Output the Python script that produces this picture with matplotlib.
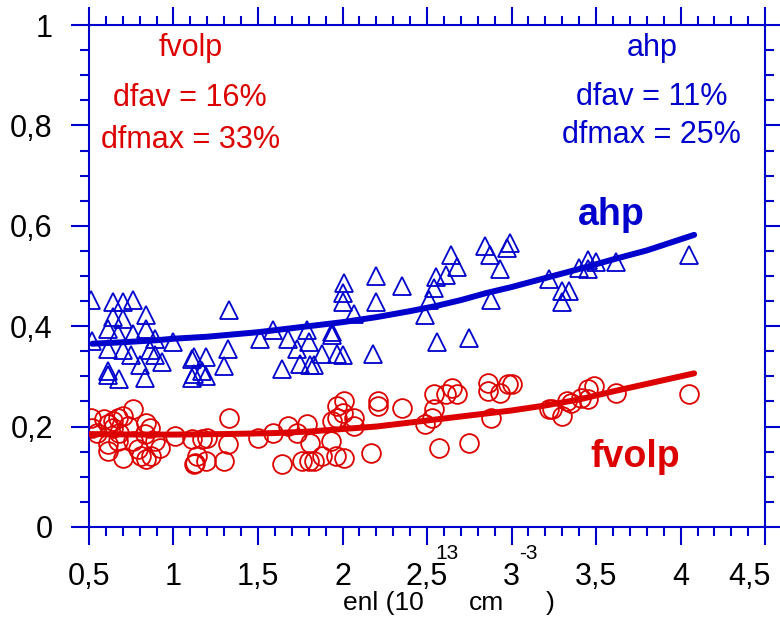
import matplotlib
matplotlib.use("Agg")
import matplotlib.pyplot as plt
from matplotlib import font_manager
from matplotlib.transforms import ScaledTranslation
from matplotlib.ticker import MultipleLocator, FuncFormatter

# -----------------------------
# Data
# -----------------------------
ahp_x = [0.51, 0.64, 0.70, 0.76, 0.84, 0.64, 0.70, 0.61, 0.67, 0.76, 0.84, 0.89, 0.52, 0.61,
         0.70, 0.75, 0.86, 0.89, 1.00, 0.93, 0.80, 0.61, 0.61, 0.68, 0.83, 1.11, 1.11,
         1.12, 1.19, 1.12, 1.17, 1.19, 1.33, 1.32, 1.30, 1.51, 1.59, 1.68, 1.73, 1.64,
         1.79, 1.80, 1.75, 1.81, 1.83, 1.88, 1.94, 1.94, 1.97, 2.00, 2.01, 2.00, 2.00,
         2.07, 2.18, 2.20, 2.20, 2.35, 2.64, 2.68, 2.55, 2.61, 2.54, 2.51, 2.49, 2.56,
         2.75, 2.84, 2.87, 2.93, 2.99, 2.97, 2.88, 3.22, 3.30, 3.30, 3.34, 3.40, 3.45,
         3.45, 3.50, 3.62, 4.05]
ahp_y = [0.452, 0.448, 0.448, 0.452, 0.422, 0.418, 0.414, 0.394, 0.385, 0.385, 0.394, 0.375,
         0.371, 0.355, 0.353, 0.343, 0.353, 0.343, 0.369, 0.329, 0.323, 0.310, 0.302,
         0.294, 0.296, 0.335, 0.296, 0.339, 0.339, 0.304, 0.310, 0.300, 0.432, 0.355,
         0.320, 0.375, 0.393, 0.375, 0.355, 0.314, 0.393, 0.369, 0.325, 0.323, 0.323,
         0.345, 0.389, 0.383, 0.345, 0.343, 0.487, 0.467, 0.448, 0.424, 0.345, 0.501,
         0.448, 0.481, 0.542, 0.517, 0.499, 0.503, 0.477, 0.452, 0.422, 0.369, 0.377,
         0.560, 0.542, 0.513, 0.566, 0.556, 0.452, 0.495, 0.471, 0.448, 0.471, 0.515,
         0.531, 0.513, 0.527, 0.527, 0.542]

fvolp_x = [0.51, 0.52, 0.59, 0.64, 0.61, 0.67, 0.70, 0.76, 0.64, 0.84, 0.86, 0.83, 0.89, 0.61,
           0.61, 0.70, 0.79, 0.81, 0.84, 0.87, 0.92, 0.76, 0.67, 1.01, 1.11, 1.12, 1.17,
           0.55, 0.73, 0.68, 1.14, 1.20, 1.19, 1.13, 1.32, 1.30, 1.33, 1.50, 1.59, 1.64,
           1.68, 1.73, 1.79, 1.81, 1.76, 1.80, 1.83, 1.88, 1.93, 1.94, 1.97, 1.97, 2.01,
           2.00, 2.07, 2.07, 1.96, 2.01, 2.17, 2.21, 2.21, 2.35, 2.54, 2.65, 2.61, 2.68,
           2.54, 2.53, 2.49, 2.57, 2.75, 2.86, 2.86, 2.93, 2.98, 3.00, 2.88, 3.22, 3.30,
           3.33, 3.24, 3.35, 3.41, 3.45, 3.49, 3.45, 3.62, 4.05]
fvolp_y = [0.217, 0.197, 0.215, 0.211, 0.205, 0.217, 0.221, 0.235, 0.197, 0.207, 0.197, 0.185,
           0.172, 0.166, 0.152, 0.138, 0.156, 0.142, 0.136, 0.142, 0.158, 0.172, 0.172,
           0.181, 0.176, 0.126, 0.176, 0.187, 0.201, 0.187, 0.142, 0.178, 0.132, 0.128,
           0.166, 0.132, 0.217, 0.178, 0.187, 0.126, 0.201, 0.187, 0.205, 0.168, 0.132,
           0.132, 0.132, 0.142, 0.172, 0.211, 0.217, 0.241, 0.250, 0.227, 0.217, 0.201,
           0.142, 0.138, 0.148, 0.250, 0.241, 0.237, 0.264, 0.276, 0.264, 0.264, 0.235,
           0.217, 0.205, 0.158, 0.168, 0.286, 0.270, 0.266, 0.284, 0.284, 0.217, 0.235,
           0.221, 0.250, 0.235, 0.247, 0.256, 0.274, 0.280, 0.254, 0.266, 0.264]

ahp_fit_x = [0.52, 0.7, 0.9, 1.0, 1.2, 1.5, 1.8, 2.0, 2.2, 2.4, 2.55, 2.7, 2.85, 3.0, 3.2,
             3.4, 3.6, 3.8, 4.08]
ahp_fit_y = [0.365, 0.368, 0.372, 0.375, 0.379, 0.388, 0.400, 0.408, 0.418, 0.430, 0.440,
             0.452, 0.466, 0.478, 0.496, 0.514, 0.533, 0.551, 0.582]

fvolp_fit_x = [0.5, 0.8, 1.0, 1.3, 1.6, 1.8, 2.0, 2.2, 2.4, 2.6, 2.8, 3.0, 3.2, 3.4, 3.6,
               3.8, 4.08]
fvolp_fit_y = [0.185, 0.184, 0.184, 0.185, 0.187, 0.190, 0.195, 0.200, 0.208, 0.216, 0.224,
               0.232, 0.242, 0.254, 0.270, 0.285, 0.306]

BLUE = "#0000cc"
RED = "#dd0000"

# -----------------------------
# Fonts
# -----------------------------
names = {f.name for f in font_manager.fontManager.ttflist}
narrow = "Liberation Sans Narrow" if "Liberation Sans Narrow" in names else "Liberation Sans"
tick_size = 27 if narrow.endswith("Narrow") else 22

plt.rcParams["font.family"] = ["Liberation Sans", "DejaVu Sans"]

# -----------------------------
# Plot
# -----------------------------
fig = plt.figure(figsize=(7.8, 6.28), dpi=100)
ax = fig.add_axes([0.114, 0.161, 0.867, 0.799])

ax.plot(ahp_x, ahp_y, linestyle="none", marker="^", markersize=13.5,
        markerfacecolor="none", markeredgecolor=BLUE, markeredgewidth=1.3, zorder=2)
ax.plot(fvolp_x, fvolp_y, linestyle="none", marker="o", markersize=13.5,
        markerfacecolor="none", markeredgecolor=RED, markeredgewidth=1.3, zorder=2)
ax.plot(ahp_fit_x, ahp_fit_y, color=BLUE, linewidth=4.3, solid_capstyle="round", zorder=3)
ax.plot(fvolp_fit_x, fvolp_fit_y, color=RED, linewidth=4.3, solid_capstyle="round", zorder=3)

ax.set_xlim(0.5, 4.5)
ax.set_ylim(0, 1)

comma = FuncFormatter(lambda v, p: f"{v:g}".replace(".", ","))
ax.xaxis.set_major_locator(MultipleLocator(0.5))
ax.xaxis.set_minor_locator(MultipleLocator(0.1))
ax.yaxis.set_major_locator(MultipleLocator(0.2))
ax.yaxis.set_minor_locator(MultipleLocator(0.05))
ax.xaxis.set_major_formatter(comma)
ax.yaxis.set_major_formatter(comma)

for s in ax.spines.values():
    s.set_color(BLUE)
    s.set_linewidth(1.5)
ax.tick_params(which="both", direction="out", color=BLUE, width=1.5,
               top=True, right=True, labelsize=tick_size, labelfontfamily=narrow)
ax.tick_params(which="major", length=13)
ax.tick_params(which="minor", length=6.5)
ax.tick_params(axis="x", pad=12)
ax.tick_params(axis="y", pad=13)

# x axis title, pieced together like the original
fig.text(0.440, 0.040, "enl (10", fontsize=19, fontfamily=narrow, ha="left", va="center")
fig.text(0.573, 0.118, "13", fontsize=15, fontfamily=narrow, ha="center", va="center")
fig.text(0.624, 0.040, "cm", fontsize=19, fontfamily=narrow, ha="center", va="center")
fig.text(0.677, 0.118, "-3", fontsize=15, fontfamily=narrow, ha="center", va="center")
fig.text(0.705, 0.040, ")", fontsize=19, fontfamily=narrow, ha="center", va="center")

# annotations
ax.text(1.10, 0.954, "fvolp", color=RED, fontsize=22, ha="center", va="center")
ax.text(1.10, 0.855, "dfav = 16%", color=RED, fontsize=22, ha="center", va="center")
ax.text(1.10, 0.771, "dfmax = 33%", color=RED, fontsize=22, ha="center", va="center")
ax.text(3.83, 0.954, "ahp", color=BLUE, fontsize=22, ha="center", va="center")
ax.text(3.83, 0.857, "dfav = 11%", color=BLUE, fontsize=22, ha="center", va="center")
ax.text(3.83, 0.781, "dfmax = 25%", color=BLUE, fontsize=22, ha="center", va="center")
ax.text(3.59, 0.622, "ahp", color=BLUE, fontsize=27, fontweight="bold", ha="center", va="center")
ax.text(3.73, 0.139, "fvolp", color=RED, fontsize=27, fontweight="bold", ha="center", va="center")

# the last x label sits against the right edge, nudge it inward
fig.canvas.draw()
for tick in ax.xaxis.get_major_ticks():
    if abs(tick.get_loc() - 4.5) < 1e-6:
        lab = tick.label1
        lab.set_transform(lab.get_transform() + ScaledTranslation(-11 / 72, 0, fig.dpi_scale_trans))

fig.savefig("out.png", dpi=100)
